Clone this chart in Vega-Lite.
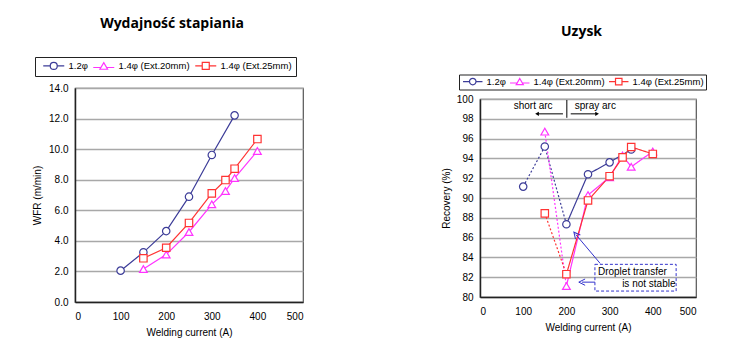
{
  "$schema": "https://vega.github.io/schema/vega-lite/v6.json",
  "autosize": {"type": "none"},
  "padding": {"left": 75, "top": 88, "right": 656, "bottom": 270},
  "background": "white",
  "config": {
    "font": "Liberation Sans",
    "view": {"stroke": "#555", "strokeWidth": 1.2},
    "axis": {"labelFont": "Liberation Sans", "labelFontSize": 10, "labelColor": "#000", "titleFont": "Liberation Sans", "titleFontSize": 10, "titleFontWeight": "normal", "titleColor": "#000", "domainColor": "#222", "domainWidth": 1.5, "ticks": false, "gridColor": "#a8a8a8", "gridWidth": 1.5, "labelOverlap": false},
    "legend": {"labelFont": "Liberation Sans", "labelFontSize": 9.5, "labelColor": "#000"},
    "title": {"font": "Open Sans", "fontSize": 14, "fontWeight": "bold", "color": "#000", "anchor": "middle", "frame": "group"}
  },
  "bounds": "flush",
  "spacing": 177,
  "resolve": {"scale": {"stroke": "independent", "strokeDash": "independent", "x": "independent", "y": "independent"}, "legend": {"stroke": "independent", "strokeDash": "independent"}},
  "hconcat": [
    {
      "width": 228,
      "height": 214,
      "title": {"text": "Wydajność stapiania", "offset": 26, "dx": -17},
      "data": {"values": [
        {"x": 100, "y": 2.05, "s": "1.2φ"},
        {"x": 150, "y": 3.25, "s": "1.2φ"},
        {"x": 200, "y": 4.64, "s": "1.2φ"},
        {"x": 250, "y": 6.89, "s": "1.2φ"},
        {"x": 300, "y": 9.62, "s": "1.2φ"},
        {"x": 350, "y": 12.21, "s": "1.2φ"},
        {"x": 150, "y": 2.16, "s": "1.4φ (Ext.20mm)"},
        {"x": 200, "y": 3.1, "s": "1.4φ (Ext.20mm)"},
        {"x": 250, "y": 4.58, "s": "1.4φ (Ext.20mm)"},
        {"x": 300, "y": 6.39, "s": "1.4φ (Ext.20mm)"},
        {"x": 330, "y": 7.26, "s": "1.4φ (Ext.20mm)"},
        {"x": 350, "y": 8.11, "s": "1.4φ (Ext.20mm)"},
        {"x": 400, "y": 9.88, "s": "1.4φ (Ext.20mm)"},
        {"x": 150, "y": 2.86, "s": "1.4φ (Ext.25mm)"},
        {"x": 200, "y": 3.55, "s": "1.4φ (Ext.25mm)"},
        {"x": 250, "y": 5.17, "s": "1.4φ (Ext.25mm)"},
        {"x": 300, "y": 7.11, "s": "1.4φ (Ext.25mm)"},
        {"x": 330, "y": 7.98, "s": "1.4φ (Ext.25mm)"},
        {"x": 350, "y": 8.72, "s": "1.4φ (Ext.25mm)"},
        {"x": 400, "y": 10.66, "s": "1.4φ (Ext.25mm)"}
      ]},
      "encoding": {
        "x": {"field": "x", "type": "quantitative", "scale": {"domain": [0, 500]}, "axis": {"values": [0, 100, 200, 300, 400, 500], "title": "Welding current (A)", "grid": false, "labelPadding": 9, "titlePadding": 6}},
        "y": {"field": "y", "type": "quantitative", "scale": {"domain": [0, 14]}, "axis": {"values": [0, 2, 4, 6, 8, 10, 12, 14], "format": ".1f", "title": "WFR (m/min)", "labelPadding": 7, "titlePadding": 6}},
        "stroke": {"field": "s", "type": "nominal", "scale": {"domain": ["1.2φ", "1.4φ (Ext.20mm)", "1.4φ (Ext.25mm)"], "range": ["#3c3c98", "#ff33ff", "#ff3333"]},
          "legend": {"orient": "none", "legendX": -40, "legendY": -31, "direction": "horizontal", "title": null, "strokeColor": "#222", "fillColor": "white", "padding": 4, "symbolSize": 49, "symbolOffset": 10, "labelOffset": 10, "columnPadding": 1,
            "encode": {"symbols": {"update": {"shape": {"signal": "datum.value === '1.2φ' ? 'M-3,0H-1M1,0H3M-1,0A1,1,0,1,0,1,0A1,1,0,1,0,-1,0' : datum.value === '1.4φ (Ext.20mm)' ? 'M-3,0.4H-0.75M0.75,0.4H3M0,-1L1.1,0.9H-1.1Z' : 'M-3,0H-1M1,0H3M-1,-1H1V1H-1Z'"}, "fill": {"value": "white"}, "strokeWidth": {"value": 1.2}}}}}}
      },
      "layer": [
        {"mark": {"type": "line", "strokeWidth": 1.2}},
        {"transform": [{"filter": "datum.s == '1.2φ'"}], "mark": {"type": "point", "shape": "circle", "filled": true, "fill": "white", "opacity": 1, "strokeWidth": 1.2, "size": 55}},
        {"transform": [{"filter": "datum.s == '1.4φ (Ext.20mm)'"}], "mark": {"type": "point", "shape": "triangle-up", "filled": true, "fill": "white", "opacity": 1, "strokeWidth": 1.2, "size": 60}},
        {"transform": [{"filter": "datum.s == '1.4φ (Ext.25mm)'"}], "mark": {"type": "point", "shape": "square", "filled": true, "fill": "white", "opacity": 1, "strokeWidth": 1.2, "size": 55}}
      ]
    },
    {
      "bounds": "flush",
      "spacing": 10,
      "resolve": {"scale": {"stroke": "independent", "strokeDash": "independent"}, "legend": {"stroke": "independent", "strokeDash": "independent"}},
      "vconcat": [
        {"width": 216, "height": 1, "view": {"stroke": null}, "data": {"values": []}, "mark": "point"},
        {
          "width": 216,
          "height": 198,
          "title": {"text": "Uzysk", "offset": 35, "dx": -6.5},
          "encoding": {
            "x": {"field": "x", "type": "quantitative", "scale": {"domain": [0, 500]}, "axis": {"values": [0, 100, 200, 300, 400, 500], "title": "Welding current (A)", "grid": false, "labelPadding": 9, "titlePadding": 6}},
            "y": {"field": "y", "type": "quantitative", "scale": {"domain": [80, 100]}, "axis": {"values": [80, 82, 84, 86, 88, 90, 92, 94, 96, 98, 100], "title": "Recovery (%)", "labelPadding": 7, "titlePadding": 5}}
          },
          "layer": [
            {
              "data": {"values": [
                {"x": 100, "y": 91.15, "s": "1.2φ", "part": "short"},
                {"x": 150, "y": 95.2, "s": "1.2φ", "part": "short"},
                {"x": 200, "y": 87.35, "s": "1.2φ", "part": "short"},
                {"x": 200, "y": 87.35, "s": "1.2φ", "part": "spray"},
                {"x": 250, "y": 92.4, "s": "1.2φ", "part": "spray"},
                {"x": 300, "y": 93.6, "s": "1.2φ", "part": "spray"},
                {"x": 350, "y": 94.9, "s": "1.2φ", "part": "spray"},
                {"x": 150, "y": 96.7, "s": "1.4φ (Ext.20mm)", "part": "short"},
                {"x": 200, "y": 81.1, "s": "1.4φ (Ext.20mm)", "part": "short"},
                {"x": 200, "y": 81.1, "s": "1.4φ (Ext.20mm)", "part": "spray"},
                {"x": 250, "y": 90.3, "s": "1.4φ (Ext.20mm)", "part": "spray"},
                {"x": 300, "y": 92.1, "s": "1.4φ (Ext.20mm)", "part": "spray"},
                {"x": 330, "y": 94.3, "s": "1.4φ (Ext.20mm)", "part": "spray"},
                {"x": 350, "y": 93.15, "s": "1.4φ (Ext.20mm)", "part": "spray"},
                {"x": 400, "y": 94.7, "s": "1.4φ (Ext.20mm)", "part": "spray"},
                {"x": 150, "y": 88.45, "s": "1.4φ (Ext.25mm)", "part": "short"},
                {"x": 200, "y": 82.3, "s": "1.4φ (Ext.25mm)", "part": "short"},
                {"x": 200, "y": 82.3, "s": "1.4φ (Ext.25mm)", "part": "spray"},
                {"x": 250, "y": 89.75, "s": "1.4φ (Ext.25mm)", "part": "spray"},
                {"x": 300, "y": 92.2, "s": "1.4φ (Ext.25mm)", "part": "spray"},
                {"x": 330, "y": 94.1, "s": "1.4φ (Ext.25mm)", "part": "spray"},
                {"x": 350, "y": 95.15, "s": "1.4φ (Ext.25mm)", "part": "spray"},
                {"x": 400, "y": 94.45, "s": "1.4φ (Ext.25mm)", "part": "spray"}
              ]},
              "encoding": {
                "stroke": {"field": "s", "type": "nominal", "scale": {"domain": ["1.2φ", "1.4φ (Ext.20mm)", "1.4φ (Ext.25mm)"], "range": ["#3c3c98", "#ff33ff", "#ff3333"]},
                  "legend": {"orient": "none", "legendX": -21, "legendY": -24.5, "direction": "horizontal", "title": null, "strokeColor": "#222", "fillColor": "white", "padding": 2, "symbolSize": 42, "symbolOffset": 7, "labelOffset": 9, "columnPadding": 1,
                    "encode": {"symbols": {"update": {"shape": {"signal": "datum.value === '1.2φ' ? 'M-3,0H-1M1,0H3M-1,0A1,1,0,1,0,1,0A1,1,0,1,0,-1,0' : datum.value === '1.4φ (Ext.20mm)' ? 'M-3,0.4H-0.75M0.75,0.4H3M0,-1L1.1,0.9H-1.1Z' : 'M-3,0H-1M1,0H3M-1,-1H1V1H-1Z'"}, "fill": {"value": "white"}, "strokeWidth": {"value": 1.2}}}}}}
              },
              "layer": [
                {
                  "mark": {"type": "line", "strokeWidth": 1.2},
                  "encoding": {
                    "detail": {"field": "part"},
                    "strokeDash": {"field": "part", "type": "nominal", "scale": {"domain": ["short", "spray"], "range": [[2, 2], [1, 0]]}, "legend": null}
                  }
                },
                {"transform": [{"filter": "datum.s == '1.2φ' && (datum.part == 'spray' || datum.x < 200)"}], "mark": {"type": "point", "shape": "circle", "filled": true, "fill": "white", "opacity": 1, "strokeWidth": 1.2, "size": 55}},
                {"transform": [{"filter": "datum.s == '1.4φ (Ext.20mm)' && (datum.part == 'spray' || datum.x < 200)"}], "mark": {"type": "point", "shape": "triangle-up", "filled": true, "fill": "white", "opacity": 1, "strokeWidth": 1.2, "size": 60}},
                {"transform": [{"filter": "datum.s == '1.4φ (Ext.25mm)' && (datum.part == 'spray' || datum.x < 200)"}], "mark": {"type": "point", "shape": "square", "filled": true, "fill": "white", "opacity": 1, "strokeWidth": 1.2, "size": 55}}
              ]
            },
            {
              "data": {"values": [{"x": 201, "x2": 201, "y": 98.1, "y2": 99.9}, {"x": 192, "x2": 134, "y": 98.5, "y2": 98.5}, {"x": 210, "x2": 269, "y": 98.5, "y2": 98.5}]},
              "mark": {"type": "rule", "color": "#000", "strokeWidth": 1},
              "encoding": {"x2": {"field": "x2"}, "y2": {"field": "y2"}}
            },
            {
              "data": {"values": [{"x": 132, "y": 98.5, "sh": "triangle-left"}, {"x": 271, "y": 98.5, "sh": "triangle-right"}]},
              "mark": {"type": "point", "filled": true, "color": "#000", "size": 18, "opacity": 1},
              "encoding": {"shape": {"field": "sh", "type": "nominal", "scale": null, "legend": null}}
            },
            {
              "data": {"values": [{"x": 123, "y": 99.3, "t": "short arc"}, {"x": 267, "y": 99.3, "t": "spray arc"}]},
              "mark": {"type": "text", "fontSize": 10, "font": "Liberation Sans", "color": "#000"},
              "encoding": {"text": {"field": "t"}}
            },
            {
              "data": {"values": [{"x": 266, "x2": 454, "y": 80.6, "y2": 83.3}]},
              "mark": {"type": "rect", "fill": "white", "fillOpacity": 0, "stroke": "#3333cc", "strokeWidth": 1, "strokeDash": [3, 2]},
              "encoding": {"x2": {"field": "x2"}, "y2": {"field": "y2"}}
            },
            {
              "data": {"values": [{"x": 273, "y": 82.5, "t": "Droplet transfer"}, {"x": 329, "y": 81.35, "t": "is not stable"}]},
              "mark": {"type": "text", "fontSize": 10, "font": "Liberation Sans", "color": "#000", "align": "left"},
              "encoding": {"text": {"field": "t"}}
            },
            {
              "data": {"values": [{"x": 278, "x2": 222, "y": 83.4, "y2": 86.3}, {"x": 266, "x2": 236, "y": 81.5, "y2": 81.5}]},
              "mark": {"type": "rule", "color": "#3333cc", "strokeWidth": 1},
              "encoding": {"x2": {"field": "x2"}, "y2": {"field": "y2"}}
            },
            {
              "data": {"values": [{"x": 222, "y": 86.3, "a": 320}, {"x": 236, "y": 81.5, "a": 270}]},
              "mark": {"type": "point", "shape": "M-1,1L0,-1L1,1", "filled": false, "color": "#3333cc", "size": 40, "strokeWidth": 1, "opacity": 1},
              "encoding": {"angle": {"field": "a", "type": "quantitative", "scale": null}}
            }
          ]
        }
      ]
    }
  ]
}
